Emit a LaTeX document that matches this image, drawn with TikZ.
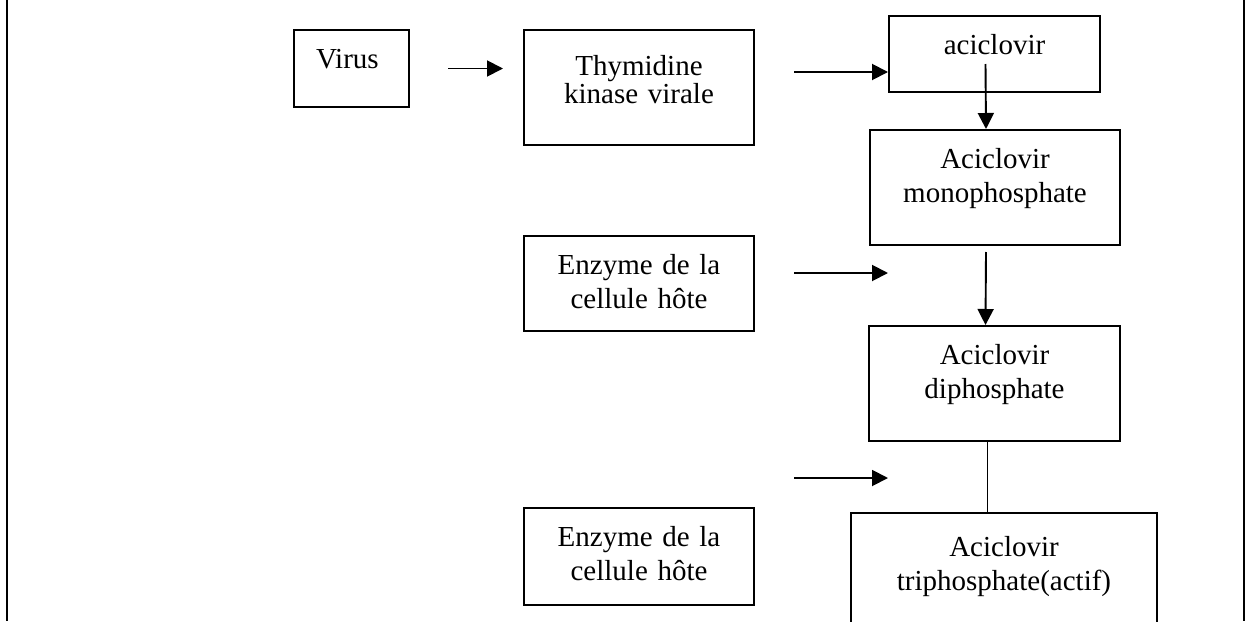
\documentclass[tikz,border=0pt]{standalone}
\usepackage{fontspec}
\setmainfont{Liberation Serif}
\usepackage{tikz}
\usetikzlibrary{arrows.meta}

\begin{document}
\begin{tikzpicture}[
    x=1pt, y=-1pt,
    stage/.style={%
      draw,
      rectangle,
      line width=2pt,
      anchor=north west,
      inner sep=0pt,
      align=center,
      text height=38pt,
      font=\fontsize{29pt}{34pt}\selectfont,
    },
    arr/.style={%
      line width=1.9pt,
      -{Triangle[length=16pt,width=16pt]},
    },
  ]

    \useasboundingbox (0,0) rectangle (1247,621);
    \draw [line width=2.8pt] (7,0) -- (7,621);
    \draw [line width=1.8pt] (1244,0) -- (1244,621);

    \node [stage, align=left, inner xsep=22pt, text width=71pt, text depth=39pt] (A) at (293,29) {Virus};
    \node [stage, text width=230pt, text height=45pt, text depth=70pt,
      font=\fontsize{29pt}{28pt}\selectfont] (B) at (523,29) {Thymidine\\kinase virale};
    \node [stage, text width=211pt, text depth=38pt] (C) at (888,15) {aciclovir};
    \node [stage, text width=250pt, text depth=77pt] (D) at (869,129) {Aciclovir\\monophosphate};
    \node [stage, text width=230pt, text depth=57pt] (E) at (523,235) {Enzyme de la\\cellule hôte};
    \node [stage, text width=251pt, text depth=77pt] (F) at (868,325) {Aciclovir\\diphosphate};
    \node [stage, text width=230pt, text depth=59pt] (G) at (523,507) {Enzyme de la\\cellule hôte};
    \node [stage, text width=306pt, text height=43pt, text depth=87pt] (H) at (850,512) {Aciclovir\\triphosphate(actif)};

    \coordinate (P) at ([yshift=21pt]C.south west);
    \coordinate (Q) at (888,273);
    \coordinate (R) at (888,478);

    \draw [arr] ([xshift=38pt]A.east) -- ([xshift=-20pt]A.east -| B.west);
    \draw [arr] ([xshift=39pt]B.east |- P) -- (P);
    \draw [arr] ([xshift=-9pt,yshift=-10pt]C.center) -- ([xshift=-9pt]D.north);
    \draw [arr] ([xshift=39pt]E.east |- Q) -- (Q);
    \draw [arr] ([xshift=-9pt,yshift=-6pt]D.south) -- ([xshift=-9pt]F.north);
    \draw [line width=1.9pt] ([xshift=-7pt]F.south) -- ([xshift=-7pt]F.south |- H.north);
    \draw [arr] ([xshift=39pt]G.east |- R) -- (R);
\end{tikzpicture}
\end{document}
